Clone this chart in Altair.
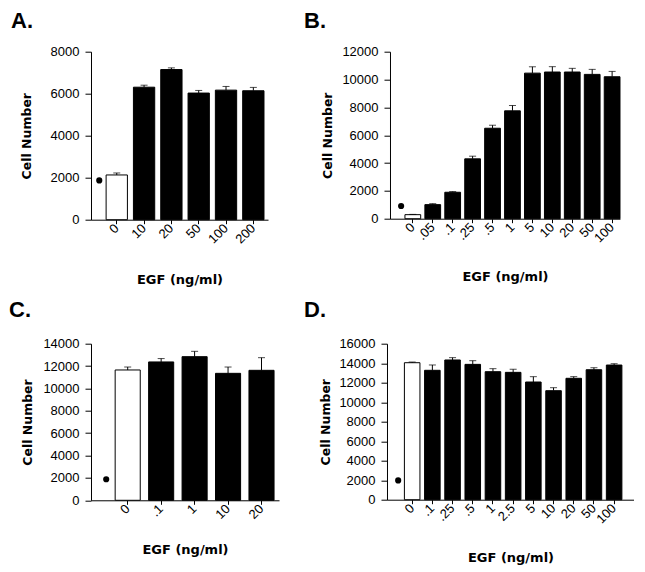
import altair as alt
import pandas as pd

# ---------------- data ----------------
a_doses = ["0", "10", "20", "50", "100", "200"]
a_means = [2130, 6310, 7150, 6030, 6170, 6140]
a_errs = [95, 95, 80, 125, 175, 160]
a_seed = 1870

b_doses = ["0", ".05", ".1", ".25", ".5", "1", "5", "10", "20", "50", "100"]
b_means = [290, 1010, 1900, 4300, 6500, 7750, 10460, 10540, 10540, 10370, 10200]
b_errs = [20, 72, 48, 192, 216, 384, 456, 384, 264, 360, 384]
b_seed = 910

c_doses = ["0", ".1", "1", "10", "20"]
c_means = [11650, 12370, 12840, 11350, 11620]
c_errs = [265, 300, 477, 565, 1130]
c_seed = 1880

d_doses = ["0", ".1", ".25", ".5", "1", "2.5", "5", "10", "20", "50", "100"]
d_means = [14050, 13270, 14330, 13880, 13130, 13060, 12070, 11180, 12450, 13330, 13810]
d_errs = [70, 547, 239, 376, 308, 308, 547, 307, 170, 205, 137]
d_seed = 1980

TITLE_FONT = "DejaVu Sans"
LABEL_FONT = "Liberation Sans"


def panel(letter, doses, means, errs, seed, ymax, width, height,
          pad_inner, pad_outer, band_align, seed_offset,
          title_dx, title_dy, ytitle_x, xtitle_y):
    df = pd.DataFrame({
        "dose": doses,
        "mean": means,
        "upper": [m + e for m, e in zip(means, errs)],
        "fill": ["white"] + ["black"] * (len(doses) - 1),
    })
    seed_df = pd.DataFrame({"dose": [doses[0]], "count": [seed]})

    xscale = alt.Scale(domain=doses, paddingInner=pad_inner,
                       paddingOuter=pad_outer, align=band_align)
    yscale = alt.Scale(domain=[0, ymax], nice=False, zero=True)
    xaxis = alt.Axis(title="EGF (ng/ml)", labelAngle=315, labelAlign="right",
                     labelBaseline="middle", labelFont=LABEL_FONT,
                     labelFontSize=13, labelColor="black", labelPadding=2,
                     tickSize=4, tickColor="black", domainColor="black",
                     titleFont=TITLE_FONT, titleFontSize=13, titleFontWeight="bold",
                     titleColor="black", titleY=xtitle_y, titleBaseline="middle",
                     grid=False)
    yaxis = alt.Axis(title="Cell Number", values=list(range(0, ymax + 1, 2000)),
                     format="d", labelFont=LABEL_FONT, labelFontSize=13,
                     labelColor="black", labelPadding=6, tickSize=6,
                     tickColor="black", domainColor="black",
                     titleFont=TITLE_FONT, titleFontSize=12.5, titleFontWeight="bold",
                     titleColor="black", titleX=ytitle_x, titleBaseline="middle",
                     grid=False)

    x = alt.X("dose:N", scale=xscale, sort=doses, axis=xaxis)

    bars = alt.Chart(df).mark_bar(stroke="black", strokeWidth=1).encode(
        x=x,
        y=alt.Y("mean:Q", scale=yscale, axis=yaxis),
        fill=alt.Fill("fill:N", scale=None),
    )
    err = alt.Chart(df).mark_rule(color="black", strokeWidth=1).encode(
        x=x,
        y=alt.Y("mean:Q", scale=yscale, axis=yaxis),
        y2="upper:Q",
    )
    cap = alt.Chart(df).mark_tick(color="black", size=7, thickness=1).encode(
        x=x,
        y=alt.Y("upper:Q", scale=yscale, axis=yaxis),
    )
    dot = alt.Chart(seed_df).mark_circle(color="black", size=38, opacity=1,
                                         xOffset=seed_offset).encode(
        x=x,
        y=alt.Y("count:Q", scale=yscale, axis=yaxis),
    )
    return alt.layer(bars, err, cap, dot).properties(
        width=width, height=height,
        title=alt.TitleParams(text=letter, anchor="start", frame="group",
                              dx=title_dx, dy=title_dy, fontSize=22,
                              font=LABEL_FONT, fontWeight="bold", color="black",
                              offset=0),
    )


pa = panel("A.", a_doses, a_means, a_errs, a_seed, 8000, 177, 168,
           0.22, 0.35, 0.79, -17.5, -80, -12.6, -65, 59.5)
pb = panel("B.", b_doses, b_means, b_errs, b_seed, 12000, 230, 167,
           0.21, 0.375, 1.0, -11.7, -86, -12.6, -62, 57.5)
pc = panel("C.", c_doses, c_means, c_errs, c_seed, 14000, 188, 156.6,
           0.25, 0.435, 0.83, -21.5, -82, -15.4, -64, 49.5)
pd_ = panel("D.", d_doses, d_means, d_errs, d_seed, 16000, 247, 156,
            0.23, 0.73, 0.59, -14, -83, -16, -61, 58)

chart = alt.concat(
    pa, pb, pc, pd_, columns=2,
    spacing={"row": 12, "column": 25}, align="none", bounds="full",
).properties(
    padding={"left": 1, "top": 1.7, "right": 0, "bottom": 0},
    background="white",
).configure_view(strokeWidth=0)

chart.save("out.html", embed_options={"renderer": "svg", "actions": False})
